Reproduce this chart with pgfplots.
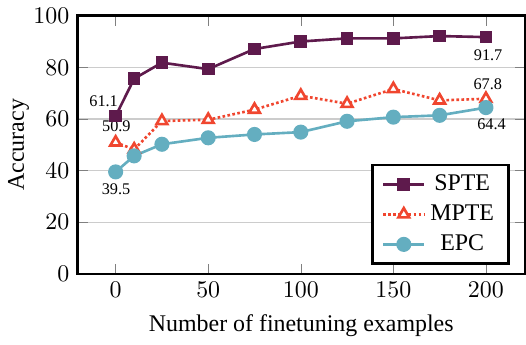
\documentclass[border=0pt]{standalone}
\usepackage{fontspec}
\setmainfont{Liberation Serif}
\usepackage{pgfplots}
\pgfplotsset{compat=1.18}
\definecolor{spte}{HTML}{5E1A4C}
\definecolor{mpte}{HTML}{F0462F}
\definecolor{epc}{HTML}{64AEC0}
\begin{document}
\begin{tikzpicture}
\begin{axis}[
  scale only axis,
  width=187pt, height=108pt,
  xmin=-20.5, xmax=221, ymin=0, ymax=100,
  xtick={0,50,100,150,200},
  ytick={0,20,40,60,80,100},
  ymajorgrids,
  grid style={line width=0.5pt, black!20},
  axis line style={line width=1pt},
  xlabel={Number of finetuning examples},
  ylabel={Accuracy},
  ylabel style={yshift=-5pt},
  legend style={at={(0.966,0.035)}, anchor=south east, line width=1pt,
    font=\normalsize, row sep=0.5pt, inner xsep=4pt},
  legend cell align=center,
]
\addplot[spte, line width=1.1pt, mark=square*, mark size=2.1pt]
  coordinates {(0,61.1) (10,75.6) (25,81.8) (50,79.3) (75,87.1) (100,90.0) (125,91.2) (150,91.2) (175,92.1) (200,91.7)};
\addlegendentry{SPTE}
\addplot[mpte, line width=1.1pt, densely dotted, mark=triangle*, mark size=2.6pt,
  mark options={solid, fill=white, line width=1.1pt}]
  coordinates {(0,50.9) (10,48.2) (25,59.2) (50,59.7) (75,63.6) (100,69.0) (125,65.9) (150,71.6) (175,67.2) (200,67.8)};
\addlegendentry{MPTE}
\addplot[epc, line width=1.1pt, mark=*, mark size=2.6pt]
  coordinates {(0,39.5) (10,45.7) (25,50.2) (50,52.7) (75,54.0) (100,54.9) (125,59.1) (150,60.7) (175,61.4) (200,64.4)};
\addlegendentry{EPC}
\node[font=\fontsize{6.8}{8}\selectfont] at (axis cs:-6.5,66.7) {61.1};
\node[font=\fontsize{6.8}{8}\selectfont] at (axis cs:0.4,57.2) {50.9};
\node[font=\fontsize{6.8}{8}\selectfont] at (axis cs:0.2,32.9) {39.5};
\node[font=\fontsize{6.8}{8}\selectfont] at (axis cs:201.2,84.6) {91.7};
\node[font=\fontsize{6.8}{8}\selectfont] at (axis cs:201,73.6) {67.8};
\node[font=\fontsize{6.8}{8}\selectfont] at (axis cs:203,57.8) {64.4};
\end{axis}
\end{tikzpicture}
\end{document}
